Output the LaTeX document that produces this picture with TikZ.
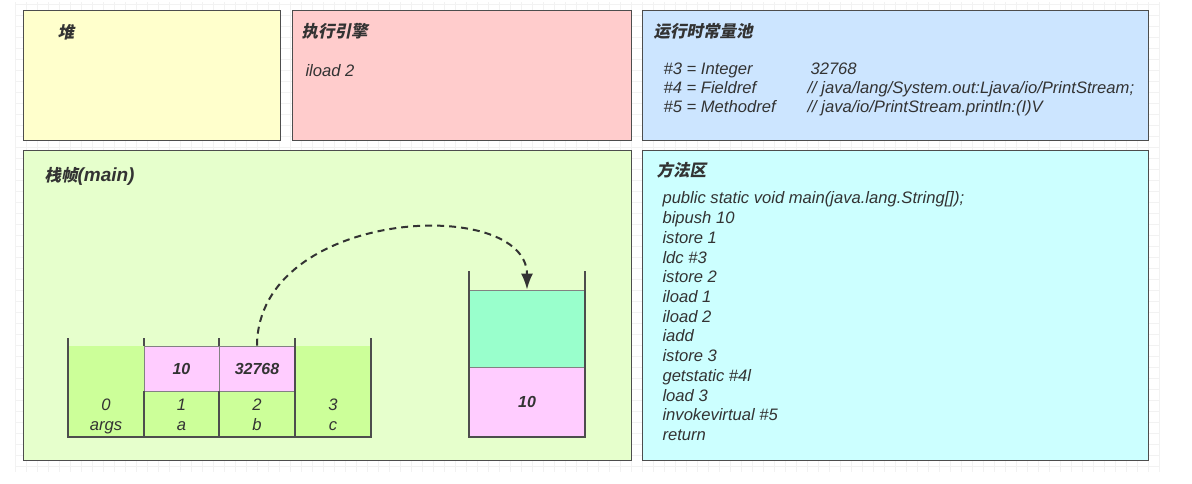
\documentclass[tikz,border=0pt]{standalone}
\usepackage{fontspec}
\setmainfont{Liberation Sans}
\newfontfamily\cjk[FakeSlant=0.2]{Noto Sans CJK SC}
\usetikzlibrary{arrows.meta}

\definecolor{edge}{HTML}{4D4D4D}
\definecolor{ink}{HTML}{333333}
\definecolor{heapc}{HTML}{FFFFCC}
\definecolor{enginec}{HTML}{FFCCCC}
\definecolor{poolc}{HTML}{CCE5FF}
\definecolor{framec}{HTML}{E6FFCC}
\definecolor{methodc}{HTML}{CCFFFF}
\definecolor{slotc}{HTML}{CCFF99}
\definecolor{pinkc}{HTML}{FFCCFF}
\definecolor{tealc}{HTML}{99FFCC}

\tikzset{
  panel/.style={draw=edge, line width=1pt, anchor=north west, inner sep=0pt},
  title/.style={anchor=base west, text=ink, font=\fontsize{16.5}{20}\selectfont\bfseries\itshape},
  code/.style={anchor=base west, text=ink, font=\fontsize{16.6}{19}\selectfont\itshape},
  cellv/.style={draw=edge!70, line width=0.8pt, inner sep=0pt, text=ink,
    font=\fontsize{16}{18}\selectfont\bfseries\itshape},
  slotbg/.style={fill=slotc, inner sep=0pt},
  wall/.style={edge, line width=2pt},
  flow/.style={ink, line width=2pt, dash pattern=on 7pt off 5pt,
    -{Latex[length=16pt,width=12pt]}},
}

\begin{document}
\begin{tikzpicture}[x=1pt, y=-1pt]
  \useasboundingbox (0,0) rectangle (1192,484);
  % faint grid behind
  \foreach \x in {15,26,...,1160} \draw[gray!10, line width=0.5pt] (\x,2) -- (\x,472);
  \foreach \y in {4,15,...,472} \draw[gray!10, line width=0.5pt] (15,\y) -- (1160,\y);

  % panels
  \node[panel, fill=heapc, minimum width=257pt, minimum height=130pt] (heap) at (23,10) {};
  \node[panel, fill=enginec, minimum width=339pt, minimum height=130pt] (engine) at (292,10) {};
  \node[panel, fill=poolc, minimum width=506pt, minimum height=130pt] (pool) at (642,10) {};
  \node[panel, fill=framec, minimum width=608pt, minimum height=310pt] (frame) at (23,150) {};
  \node[panel, fill=methodc, minimum width=506pt, minimum height=310pt] (method) at (642,150) {};

  % titles
  \node[title] (heapT) at (54,39) {\cjk 堆};
  \node[title] (engineT) at (298,38) {\cjk 执行引擎};
  \node[title] (poolT) at (650,38) {\cjk 运行时常量池};
  \node[title] (frameT) at (41,182) {{\cjk 栈帧}{\fontsize{19}{20}\selectfont(main)}};
  \node[title] (methodT) at (653,177) {\cjk 方法区};

  % engine + constant pool
  \node[code] (cur) at (302,77) {iload 2};
  \node[code] (c3) at (660,75) {\#3 = Integer};
  \node[code] (c4) at (660,94) {\#4 = Fieldref};
  \node[code] (c5) at (660,113) {\#5 = Methodref};
  \node[code] (c3v) at (807,75) {32768};
  \node[code] (c4v) at (804,94) {// java/lang/System.out:Ljava/io/PrintStream;};
  \node[code] (c5v) at (804,113) {// java/io/PrintStream.println:(I)V};

  % method area
  \foreach \ins [count=\i from 0] in {{public static void main(java.lang.String[]);},
      bipush 10, istore 1, ldc \#3, istore 2, iload 1, iload 2, iadd, istore 3,
      getstatic \#4l, load 3, invokevirtual \#5, return}
    \node[code] (m\i) at (659,204+19.7*\i) {\ins};

  % local variable table
  \node[slotbg, minimum width=76pt, minimum height=91pt] (s0) at (106,391.5) {};
  \node[slotbg, minimum width=76pt, minimum height=91pt] (s3) at (333,391.5) {};
  \node[cellv, fill=slotc, minimum width=75pt, minimum height=46pt] (s1) at (181.5,414) {};
  \node[cellv, fill=slotc, minimum width=76pt, minimum height=46pt] (s2) at (257,414) {};
  \node[cellv, fill=pinkc, minimum width=75pt, minimum height=45pt] (v1) at (181.5,368.5) {10};
  \node[cellv, fill=pinkc, minimum width=76pt, minimum height=45pt] (v2) at (257,368.5) {32768};
  \foreach \n/\name/\x in {0/args/106, 1/a/181.5, 2/b/257, 3/c/333} {
    \node[code, anchor=base] (idx\n) at (\x,410) {\n};
    \node[code, anchor=base] (var\n) at (\x,430) {\name};
  }
  \draw[wall] (68,338) |- (371,437) -- (371,338);
  \foreach \x in {144,219} \draw[wall] (\x,338) -- (\x,346) (\x,391) -- (\x,437);
  \draw[wall] (295,338) -- (295,437);

  % operand stack
  \node[draw=edge!70, line width=0.8pt, fill=tealc, inner sep=0pt,
    minimum width=116pt, minimum height=77pt] (top) at (527,328.5) {};
  \node[cellv, fill=pinkc, minimum width=116pt, minimum height=70pt] (o1) at (527,402) {10};
  \draw[wall] (469,271) |- (585,437) -- (585,271);

  % ldc #3 pushes 32768
  \draw[flow] (v2.north) .. controls (258,208) and (527,195) .. (top.north);
\end{tikzpicture}
\end{document}
